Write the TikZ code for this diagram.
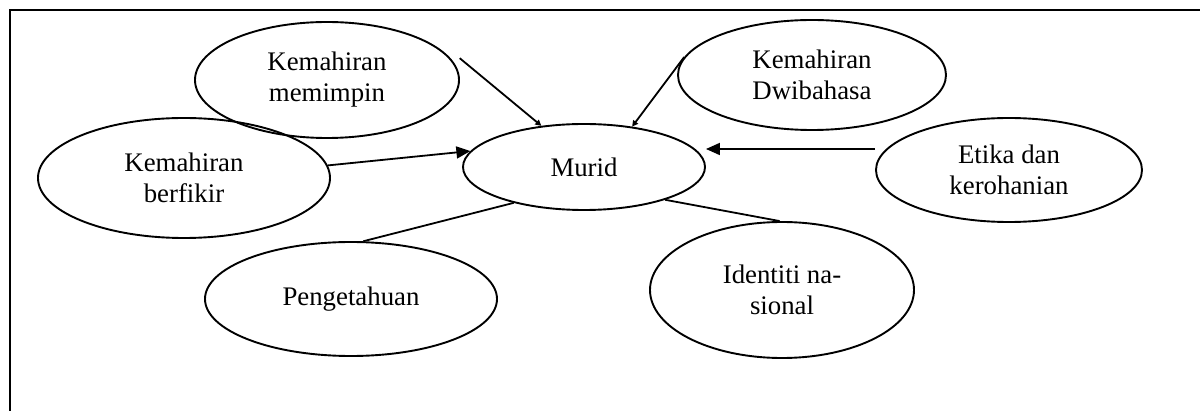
\documentclass[tikz,border=0pt]{standalone}
\usepackage{fontspec}
\setmainfont{Liberation Serif}
\usetikzlibrary{shapes.geometric,arrows.meta}
\begin{document}
\begin{tikzpicture}[x=0.5pt,y=-0.5pt,
  bubble/.style={ellipse,draw,line width=0.95pt,inner sep=0pt,align=center,
    font=\fontsize{13.4pt}{15.5pt}\selectfont},
  link/.style={line width=0.9pt},
  bigarrow/.style={link,-{Triangle[length=7pt,width=6pt]}},
  smallarrow/.style={link,-{Triangle[length=3pt,width=3pt]}}]
\useasboundingbox (0,0) rectangle (1200,411);
% frame
\draw[line width=1.3pt] (1200,10) -- (10,10) -- (10,411);
% ellipses
\node[bubble,minimum width=121pt,minimum height=43pt] (mur) at (584,167) {Murid};
\node[bubble,minimum width=132pt,minimum height=58pt] (mem) at (327,80) {Kemahiran\\memimpin};
\node[bubble,minimum width=146pt,minimum height=60pt] (ber) at (184,178) {Kemahiran\\berfikir};
\node[bubble,minimum width=134pt,minimum height=55pt] (dwi) at (812,75) {Kemahiran\\Dwibahasa};
\node[bubble,minimum width=133pt,minimum height=52pt] (eti) at (1009,170) {Etika dan\\kerohanian};
\node[bubble,minimum width=146pt,minimum height=57pt] (pen) at (351,299) {Pengetahuan};
\node[bubble,minimum width=132pt,minimum height=68pt] (ide) at (782,290) {Identiti na-\\sional};
% connectors
\draw[smallarrow] ([shift={(3pt,2pt)}]mem.8) -- (mur.136);
\draw[smallarrow] (dwi.172) -- (mur.40);
\draw[bigarrow] (ber.5) -- (mur.172);
\draw[bigarrow] ([yshift=10.5pt]eti.west) -- ([yshift=9pt]mur.east);
\draw[link] (pen.78) -- (mur.207);
\draw[link] (mur.338) -- (ide.92);
\end{tikzpicture}
\end{document}
